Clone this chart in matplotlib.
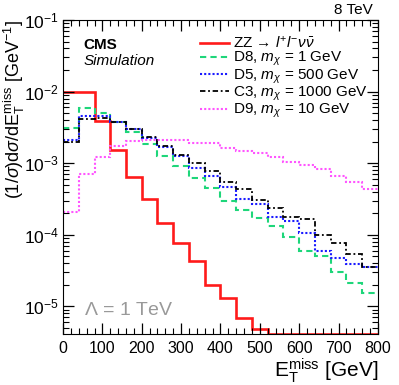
import numpy as np
import matplotlib
matplotlib.use("Agg")
import matplotlib.pyplot as plt
from matplotlib.ticker import MultipleLocator, LogLocator, LogFormatterMathtext, NullFormatter

plt.rcParams['font.family'] = ['Liberation Sans', 'DejaVu Sans']
plt.rcParams['mathtext.fontset'] = 'custom'
plt.rcParams['mathtext.rm'] = 'Liberation Sans'
plt.rcParams['mathtext.it'] = 'Liberation Sans:italic'
plt.rcParams['mathtext.bf'] = 'Liberation Sans:bold'
plt.rcParams['mathtext.fallback'] = 'stixsans'

# MET bins, 40 GeV wide
edges = np.arange(0, 840, 40)

# normalised MET distributions
zz = [0.0098, 0.0098, 0.0039, 0.00152, 6.4e-4, 3.2e-4, 1.48e-4, 7.6e-5, 4.3e-5, 2.0e-5,
      1.3e-5, 6.9e-6, 4.8e-6, 0, 0, 0, 0, 0, 0, 0]
d8 = [0.00305, 0.0059, 0.0050, 0.0037, 0.0027, 0.00187, 0.00126, 9.0e-4, 6.2e-4, 4.5e-4,
      3.0e-4, 2.25e-4, 1.69e-4, 1.34e-4, 9.2e-5, 6.0e-5, 5.0e-5, 3.0e-5, 2.1e-5, 1.55e-5]
d5 = [0.0021, 0.0045, 0.0045, 0.0037, 0.0030, 0.00228, 0.00166, 0.00127, 8.6e-4, 6.6e-4,
      4.7e-4, 3.2e-4, 2.7e-4, 1.78e-4, 1.55e-4, 1.06e-4, 6.0e-5, 4.8e-5, 3.9e-5, 3.5e-5]
c3 = [0.00195, 0.0042, 0.0043, 0.0037, 0.0030, 0.00232, 0.00172, 0.0013, 0.00102, 7.75e-4,
      5.4e-4, 4.4e-4, 3.1e-4, 2.4e-4, 1.77e-4, 1.66e-4, 1.0e-4, 7.7e-5, 5.4e-5, 3.5e-5]
d9 = [2.1e-4, 7.0e-4, 1.2e-3, 1.75e-3, 2.05e-3, 2.1e-3, 2.1e-3, 2.1e-3, 1.92e-3, 1.9e-3,
      1.65e-3, 1.5e-3, 1.37e-3, 1.2e-3, 1.03e-3, 9.4e-4, 8.4e-4, 6.6e-4, 5.4e-4, 4.4e-4]

labels = [r'ZZ → $l^{+}l^{-}\nu\bar{\nu}$',
          r'D8, $m_{\chi}$ = 1 GeV',
          r'D5, $m_{\chi}$ = 500 GeV',
          r'C3, $m_{\chi}$ = 1000 GeV',
          r'D9, $m_{\chi}$ = 10 GeV']

ymin, ymax = 4.1e-6, 0.1

fig = plt.figure(figsize=(3.99, 3.85), dpi=100)
ax = fig.add_axes([0.158, 0.1325, 0.789, 0.8155])

ax.stairs(np.clip(zz, ymin, None), edges, baseline=None, color='#ff1a1a', lw=1.9, label=labels[0])
ax.stairs(d8, edges, baseline=None, color='#1ed67a', lw=1.5, ls=(0, (3, 2)), label=labels[1])
ax.stairs(d5, edges, baseline=None, color='#1a1aff', lw=1.5, ls=(0, (1, 1)), label=labels[2])
ax.stairs(c3, edges, baseline=None, color='black', lw=1.3, ls=(0, (3, 1.5, 1, 1.5)), label=labels[3])
ax.stairs(d9, edges, baseline=None, color='#ff55ff', lw=1.5, ls=(0, (1, 1)), label=labels[4])

ax.set_yscale('log')
ax.set_xlim(0, 800)
ax.set_ylim(ymin, ymax)

ax.xaxis.set_major_locator(MultipleLocator(100))
ax.xaxis.set_minor_locator(MultipleLocator(20))
ax.yaxis.set_major_locator(LogLocator(base=10))
ax.yaxis.set_major_formatter(LogFormatterMathtext())
ax.yaxis.set_minor_locator(LogLocator(base=10, subs=np.arange(2, 10)))
ax.yaxis.set_minor_formatter(NullFormatter())
ax.tick_params(which='both', direction='in', top=True, right=True)
ax.tick_params(which='major', length=8, width=0.9)
ax.tick_params(which='minor', length=4, width=0.8)
ax.tick_params(axis='x', pad=5, labelsize=11.5)
ax.tick_params(axis='y', pad=3, labelsize=12.5)

ax.set_xlabel(r'E$_{\mathrm{T}}^{\mathrm{miss}}$ [GeV]', fontsize=15, ha='right')
ax.xaxis.set_label_coords(1.0, -0.07)
ax.set_ylabel(r'(1/$\sigma$)d$\sigma$/dE$_{\mathrm{T}}^{\mathrm{miss}}$ [GeV$^{-1}$]', fontsize=13, ha='right')
ax.yaxis.set_label_coords(-0.114, 1.0)

ax.text(0.984, 1.01, '8 TeV', transform=ax.transAxes, ha='right', va='bottom', fontsize=11)
ax.text(0.065, 0.92, 'CMS', transform=ax.transAxes, fontsize=11, fontweight='bold', va='center')
ax.text(0.065, 0.868, 'Simulation', transform=ax.transAxes, fontsize=11, style='italic', va='center')
ax.text(0.065, 0.075, r'$\mathit{Λ}$ = 1 TeV', transform=ax.transAxes, fontsize=14,
        color='#999999', va='center')

leg = ax.legend(loc='upper left', bbox_to_anchor=(0.415, 0.972), frameon=False, fontsize=11,
                handlelength=1.9, handletextpad=0.25, labelspacing=-0.06, borderaxespad=0)

fig.savefig('out.png', dpi=100)
